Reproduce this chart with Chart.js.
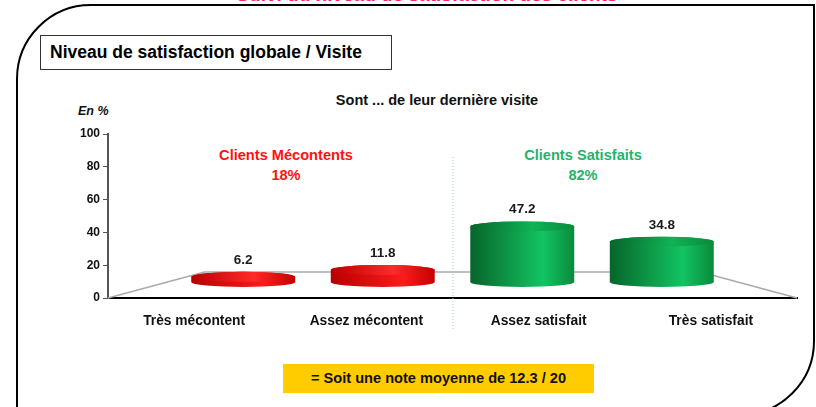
<!DOCTYPE html>
<html lang="fr">
<head>
<meta charset="utf-8">
<title>Niveau de satisfaction globale / Visite</title>
<script src="https://cdn.jsdelivr.net/npm/chart.js@4.4.1/dist/chart.umd.min.js"></script>
<style>
  body { margin: 0; background: #fff; overflow: hidden; font-family: 'Liberation Sans', Arial, sans-serif; }
  #page { position: relative; width: 816px; height: 407px; overflow: hidden; }
  #frame { position: absolute; left: 16px; top: 4px; width: 795px; height: 408px; border: 2px solid #000;
           border-top-left-radius: 75px; border-bottom-right-radius: 75px; }
  #topTitle { position: absolute; left: 0; width: 854px; top: -15px; text-align: center; font-weight: bold;
              font-size: 19px; color: #ff2070; line-height: 20px; }
  #boxTitle { position: absolute; left: 40px; top: 35px; border: 1px solid #333;
              font-weight: bold; font-size: 17.5px; line-height: 33px; padding-left: 9px; box-sizing: border-box; width: 352px; height: 35px; }
  .txt { position: absolute; font-weight: bold; white-space: nowrap; transform: translateX(-50%); text-align: center; }
  #subtitle { left: 437px; top: 92px; font-size: 14.5px; color: #111; }
  #unit { position: absolute; left: 78px; top: 104px; font-size: 12.5px; font-weight: bold; font-style: italic; color: #111; }
  .grp { font-size: 14.6px; line-height: 20px; }
  #note { position: absolute; left: 283px; top: 364px; width: 311px; height: 29px; background: #ffcc00;
          font-weight: bold; font-size: 14.6px; line-height: 29px; text-align: center; color: #111; }
  canvas { position: absolute; left: 0; top: 0; }
</style>
</head>
<body>
<div id="page">
  <div id="frame"></div>
  <div id="topTitle">Suivi du niveau de satisfaction des clients</div>
  <div id="boxTitle">Niveau de satisfaction globale / Visite</div>
  <div id="subtitle" class="txt">Sont ... de leur dernière visite</div>
  <div id="unit">En %</div>
  <div id="grpLeft" class="txt grp" style="left:286px; top:145px; color:#ff1010;"></div>
  <div id="grpRight" class="txt grp" style="left:583px; top:145px; color:#1fb46a;"></div>
  <div id="note">= Soit une note moyenne de 12.3 / 20</div>
  <canvas id="satisfactionChart" width="816" height="407"></canvas>
</div>
<script>
const categories = ['Très mécontent', 'Assez mécontent', 'Assez satisfait', 'Très satisfait'];
const satisfaction = [6.2, 11.8, 47.2, 34.8];
const yTicks = [0, 20, 40, 60, 80, 100];
const groupNames = ['Clients Mécontents', 'Clients Satisfaits'];
const groupShares = [18, 82];

document.getElementById('grpLeft').innerHTML = groupNames[0] + '<br>' + groupShares[0] + '%';
document.getElementById('grpRight').innerHTML = groupNames[1] + '<br>' + groupShares[1] + '%';

const redCols = ['#b80000', '#ff1a1a', '#c40000', '#ff2a2a'];
const greenCols = ['#07652a', '#12c462', '#0a8a3c', '#10b355'];

function drawCylinder(ctx, cx, w, top, bottomC, ry, cols) {
    const l = cx - w / 2, r = cx + w / 2, rx = w / 2;
    const tc = Math.min(top + ry, bottomC);
    const g = ctx.createLinearGradient(l, 0, r, 0);
    g.addColorStop(0, cols[0]);
    g.addColorStop(0.7, cols[1]);
    g.addColorStop(1, cols[2]);
    ctx.fillStyle = g;
    ctx.beginPath();
    ctx.moveTo(l, tc);
    ctx.lineTo(l, bottomC);
    ctx.ellipse(cx, bottomC, rx, ry, 0, Math.PI, 0, true);
    ctx.lineTo(r, tc);
    ctx.ellipse(cx, tc, rx, ry, 0, 0, Math.PI, true);
    ctx.closePath();
    ctx.fill();
    // top cap
    const gt = ctx.createLinearGradient(l, 0, r, 0);
    gt.addColorStop(0, cols[0]);
    gt.addColorStop(0.6, cols[3]);
    gt.addColorStop(1, cols[2]);
    ctx.fillStyle = gt;
    ctx.beginPath();
    ctx.ellipse(cx, tc, rx, ry, 0, 0, Math.PI * 2);
    ctx.fill();
}

const cylinderPlugin = {
    id: 'cylinders',
    beforeDatasetsDraw(chart) {
        const {ctx, chartArea, scales: {y}} = chart;
        const midX = (chartArea.left + chartArea.right) / 2;
        const zero = y.getPixelForValue(0);
        const backY = zero - 26;
        const bl = midX + (chartArea.left - midX) * 0.72;
        const br = midX + (chartArea.right - midX) * 0.72;

        ctx.save();
        // floor
        ctx.strokeStyle = '#aaaaaa';
        ctx.lineWidth = 1.5;
        ctx.beginPath();
        ctx.moveTo(chartArea.left, zero);
        ctx.lineTo(bl, backY);
        ctx.lineTo(br, backY);
        ctx.lineTo(chartArea.right, zero);
        ctx.stroke();

        // separator between the two groups
        ctx.strokeStyle = '#9cc6da';
        ctx.lineWidth = 1;
        ctx.setLineDash([1, 2]);
        ctx.beginPath();
        ctx.moveTo(midX + 0.5, chartArea.top + 23);
        ctx.lineTo(midX + 0.5, zero + 32);
        ctx.stroke();
        ctx.setLineDash([]);

        const meta = chart.getDatasetMeta(0);
        meta.data.forEach((bar, i) => {
            const cx = midX + (bar.x - midX) * 0.81;
            const w = bar.width * 0.81;
            const top = zero - 18.5 + (bar.y - zero) * 0.75;
            const cols = i < 2 ? redCols : greenCols;
            drawCylinder(ctx, cx, w, top, zero - 16, 5, cols);

            ctx.fillStyle = '#1a1a1a';
            ctx.font = 'bold 13.5px "Liberation Sans", Arial, sans-serif';
            ctx.textAlign = 'center';
            ctx.textBaseline = 'bottom';
            ctx.fillText(satisfaction[i].toFixed(1), cx, top - 5);
        });
        ctx.restore();
        return false;
    }
};

document.addEventListener('DOMContentLoaded', function() {
    const ctx = document.getElementById('satisfactionChart').getContext('2d');
    new Chart(ctx, {
        type: 'bar',
        data: {
            labels: categories,
            datasets: [{
                label: 'Satisfaction',
                data: satisfaction,
                backgroundColor: 'rgba(0,0,0,0)',
                barPercentage: 0.745,
                categoryPercentage: 1
            }]
        },
        options: {
            responsive: false,
            animation: false,
            layout: {padding: {top: 134, right: 19, bottom: 0, left: 0}},
            plugins: {legend: {display: false}, tooltip: {enabled: false}},
            scales: {
                x: {
                    grid: {display: false, drawTicks: false},
                    border: {color: '#000', width: 2},
                    ticks: {
                        padding: 15,
                        color: '#111',
                        font: {family: 'Liberation Sans', weight: 'bold', size: 13.8}
                    },
                    afterFit: s => { s.height = 109; }
                },
                y: {
                    min: 0,
                    max: 100,
                    afterBuildTicks: s => { s.ticks = yTicks.map(v => ({value: v})); },
                    grid: {drawOnChartArea: false, drawTicks: true, tickLength: 5, color: '#555'},
                    border: {color: '#555', width: 2},
                    ticks: {
                        padding: 3,
                        color: '#111',
                        font: {family: 'Liberation Sans', weight: 'bold', size: 12}
                    },
                    afterFit: s => { s.width = 108; }
                }
            }
        },
        plugins: [cylinderPlugin]
    });
});
</script>
</body>
</html>
